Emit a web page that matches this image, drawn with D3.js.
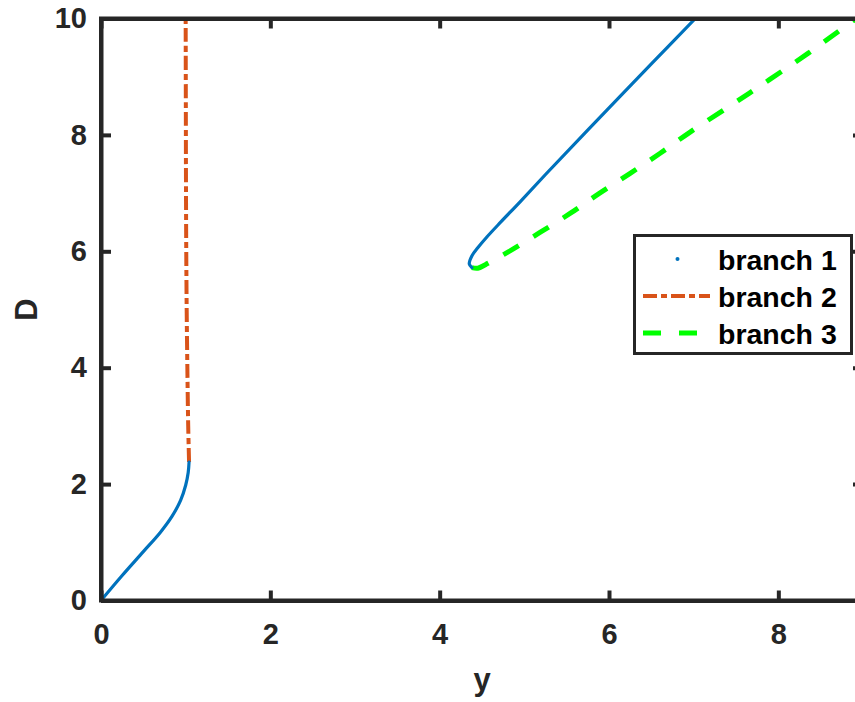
<!DOCTYPE html>
<html>
<head>
<meta charset="utf-8">
<script src="https://cdn.jsdelivr.net/npm/d3@7"></script>
<style>
  html, body { margin: 0; padding: 0; background: #fff; }
  svg { display: block; font-family: "Liberation Sans", Arial, sans-serif; font-weight: bold; }
</style>
</head>
<body>
<svg id="chart" width="855" height="702"></svg>
<script>
// ---- data (y, D) ----
const branch1Lower = [
  [0.00, 0.00], [0.25, 0.43], [0.50, 0.84], [0.70, 1.17], [0.84, 1.45],
  [0.94, 1.72], [1.00, 1.98], [1.03, 2.20], [1.04, 2.38]
];
const branch1Upper = [
  [4.38, 5.72], [4.35, 5.78], [4.38, 5.92], [4.45, 6.06], [4.56, 6.25],
  [4.72, 6.50], [4.95, 6.85], [5.25, 7.32], [5.74, 8.07], [6.52, 9.25], [7.02, 10.00]
];
const branch2 = [
  [1.04, 2.38], [1.03, 3.00], [1.02, 4.00], [1.012, 5.00], [1.007, 6.00],
  [1.004, 7.00], [1.002, 8.50], [1.00, 10.00]
];
const branch3 = [
  [4.38, 5.72], [4.45, 5.71], [4.54, 5.77], [4.81, 5.99], [5.18, 6.32],
  [5.54, 6.65], [5.89, 7.00], [6.25, 7.34], [6.60, 7.68], [6.95, 8.04],
  [7.65, 8.71], [8.35, 9.40], [8.73, 9.80], [9.00, 10.08]
];
const xTicks = [0, 2, 4, 6, 8];
const yTicks = [0, 2, 4, 6, 8, 10];
const legendLabels = ["branch 1", "branch 2", "branch 3"];
const colors = ["#0072BD", "#D95319", "#00FF00"];

// ---- layout ----
const svg = d3.select("#chart");
const x = d3.scaleLinear().domain([0, 9]).range([101, 863]);
const y = d3.scaleLinear().domain([0, 10]).range([600.5, 18.5]);
const axisColor = "#262626";

// clip
svg.append("defs").append("clipPath").attr("id", "clip")
  .append("rect")
  .attr("x", x(0)).attr("y", y(10))
  .attr("width", x(9) - x(0)).attr("height", y(0) - y(10));

const line = d3.line().x(d => x(d[0])).y(d => y(d[1])).curve(d3.curveCatmullRom.alpha(0.5));

const plot = svg.append("g").attr("clip-path", "url(#clip)");

plot.append("path").datum(branch2)
  .attr("d", line).attr("fill", "none")
  .attr("stroke", colors[1]).attr("stroke-width", 4)
  .attr("stroke-dasharray", "14,4,6,4");

plot.append("path").datum(branch3)
  .attr("d", line).attr("fill", "none")
  .attr("stroke", colors[2]).attr("stroke-width", 5)
  .attr("stroke-dasharray", "18,17");

plot.append("path").datum(branch1Lower)
  .attr("d", line).attr("fill", "none")
  .attr("stroke", colors[0]).attr("stroke-width", 3.2)
  .attr("stroke-linecap", "round").attr("stroke-linejoin", "round");

plot.append("path").datum(branch1Upper)
  .attr("d", line).attr("fill", "none")
  .attr("stroke", colors[0]).attr("stroke-width", 3.2)
  .attr("stroke-linecap", "round").attr("stroke-linejoin", "round");

// ---- axes (box) ----
const tickLen = 10;
const axW = 4;

const gx = svg.append("g").attr("transform", `translate(0,${y(0)})`)
  .call(d3.axisBottom(x).tickValues(xTicks).tickSizeInner(-tickLen).tickSizeOuter(0).tickPadding(23));
const gy = svg.append("g").attr("transform", `translate(${x(0)},0)`)
  .call(d3.axisLeft(y).tickValues(yTicks).tickSizeInner(-tickLen).tickSizeOuter(0).tickPadding(14));
const gt = svg.append("g").attr("transform", `translate(0,${y(10)})`)
  .call(d3.axisTop(x).tickValues(xTicks).tickSizeInner(-tickLen).tickSizeOuter(0).tickFormat(""));
const gr = svg.append("g").attr("transform", `translate(${x(9)},0)`)
  .call(d3.axisRight(y).tickValues(yTicks).tickSizeInner(-tickLen).tickSizeOuter(0).tickFormat(""));

[gx, gy, gt, gr].forEach(g => {
  g.select(".domain").attr("stroke", axisColor).attr("stroke-width", axW);
  g.selectAll(".tick line").attr("stroke", axisColor).attr("stroke-width", axW);
  g.selectAll(".tick text")
    .attr("fill", axisColor)
    .style("font-size", "29px")
    .style("font-weight", "bold")
    .style("font-family", "'Liberation Sans', Arial, sans-serif");
});
svg.append("rect")
  .attr("x", x(0)).attr("y", y(10))
  .attr("width", x(9) - x(0)).attr("height", y(0) - y(10))
  .attr("fill", "none").attr("stroke", axisColor).attr("stroke-width", axW);

// axis labels
svg.append("text")
  .attr("x", (x(0) + x(9)) / 2).attr("y", 690)
  .attr("text-anchor", "middle").attr("fill", axisColor)
  .style("font-size", "31px").text("y");
svg.append("text")
  .attr("transform", `translate(26,${(y(0) + y(10)) / 2}) rotate(-90)`)
  .attr("text-anchor", "middle").attr("dy", "0.36em").attr("fill", axisColor)
  .style("font-size", "31px").text("D");

// ---- legend ----
const lg = svg.append("g");
lg.append("rect")
  .attr("x", 634.5).attr("y", 235.5).attr("width", 217).attr("height", 118)
  .attr("fill", "#fff").attr("stroke", axisColor).attr("stroke-width", 3);
const rowY = [259, 296, 333];
const sx0 = 643, sx1 = 710;
lg.append("circle").attr("cx", (sx0 + sx1) / 2 + 1).attr("cy", rowY[0]).attr("r", 2)
  .attr("fill", colors[0]);
lg.append("line").attr("x1", sx0).attr("x2", sx1).attr("y1", rowY[1]).attr("y2", rowY[1])
  .attr("stroke", colors[1]).attr("stroke-width", 4).attr("stroke-dasharray", "14,4,6,4");
lg.append("line").attr("x1", sx0).attr("x2", sx1).attr("y1", rowY[2]).attr("y2", rowY[2])
  .attr("stroke", colors[2]).attr("stroke-width", 5).attr("stroke-dasharray", "18,18");
legendLabels.forEach((t, i) => {
  lg.append("text").attr("x", 718).attr("y", rowY[i] + 11)
    .attr("fill", "#000").style("font-size", "28.5px").text(t);
});
</script>
</body>
</html>
